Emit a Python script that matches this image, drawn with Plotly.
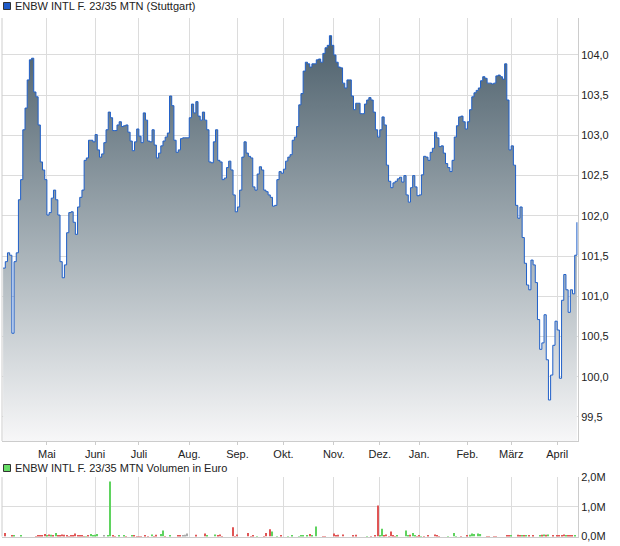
import pandas as pd
import plotly.graph_objects as go

# trading days shown (Stuttgart), Apr 2024 - Apr 2025
holidays = ["2024-05-01", "2024-12-24", "2024-12-25", "2024-12-26",
            "2024-12-31", "2025-01-01"]
dates = pd.bdate_range("2024-04-03", "2025-04-14", freq="C", holidays=holidays)
days = [d.strftime("%Y-%m-%d") for d in dates]

month_labels = ["Mai", "Juni", "Juli", "Aug.", "Sep.", "Okt.", "Nov.", "Dez.",
                "Jan.", "Feb.", "März", "April"]

# closing prices (in %)
price = [
    101.35, 101.43, 101.54, 101.51, 100.54, 101.43, 101.54, 102.20, 102.45, 103.07,
    103.34, 103.69, 103.94, 103.96, 103.54, 103.48, 103.13, 102.67, 102.57, 102.45,
    102.01, 102.04, 102.22, 102.32, 102.20, 102.01, 101.43, 101.23, 101.39, 101.79,
    102.04, 102.05, 101.92, 101.77, 102.11, 102.23, 102.32, 102.69, 102.72, 102.94,
    102.94, 102.92, 103.01, 102.82, 102.73, 102.77, 102.91, 103.07, 103.29, 103.22,
    103.06, 103.06, 103.13, 103.17, 103.11, 103.12, 103.13, 103.04, 102.93, 102.81,
    102.92, 103.08, 102.99, 102.91, 103.28, 103.19, 102.93, 102.92, 103.07, 102.88,
    102.72, 102.78, 102.87, 102.93, 102.98, 103.03, 103.49, 103.37, 102.94, 102.79,
    102.82, 102.96, 102.97, 102.97, 102.97, 103.22, 103.39, 103.28, 103.42, 103.24,
    103.19, 103.29, 103.19, 103.07, 102.67, 102.66, 102.92, 103.07, 102.69, 102.67,
    102.45, 102.47, 102.60, 102.68, 102.57, 102.26, 102.05, 102.11, 102.32, 102.73,
    102.92, 102.78, 102.74, 102.72, 102.36, 102.32, 102.52, 102.61, 102.57, 102.32,
    102.30, 102.26, 102.23, 102.12, 102.13, 102.45, 102.55, 102.53, 102.58, 102.68,
    102.73, 102.76, 102.94, 102.98, 103.11, 103.38, 103.52, 103.80, 103.91, 103.89,
    103.85, 103.89, 103.89, 103.94, 103.95, 103.91, 104.02, 104.09, 104.12, 104.24,
    104.12, 104.00, 103.91, 103.85, 103.84, 103.65, 103.59, 103.69, 103.69, 103.49,
    103.32, 103.40, 103.40, 103.27, 103.27, 103.39, 103.44, 103.47, 103.44, 103.29,
    103.07, 102.98, 103.07, 103.23, 103.13, 102.63, 102.43, 102.35, 102.41, 102.43,
    102.46, 102.48, 102.42, 102.50, 102.26, 102.17, 102.35, 102.50, 102.36, 102.25,
    102.26, 102.51, 102.74, 102.73, 102.69, 102.79, 102.84, 103.04, 102.97, 102.86,
    102.87, 102.78, 102.65, 102.60, 102.55, 102.69, 102.98, 103.12, 103.23, 103.24,
    103.17, 103.08, 103.17, 103.32, 103.48, 103.53, 103.56, 103.59, 103.68, 103.73,
    103.71, 103.65, 103.65, 103.64, 103.65, 103.74, 103.75, 103.73, 103.70, 103.89,
    103.44, 102.82, 102.87, 102.63, 102.13, 101.97, 102.11, 101.73, 101.41, 101.14,
    101.08, 101.45, 101.39, 101.17, 100.71, 100.34, 100.42, 100.77, 100.21, 99.71,
    100.02, 100.39, 100.69, 100.58, 99.98, 100.95, 101.27, 101.08, 100.80, 101.08,
    101.03, 101.51, 101.92,
]

# daily turnover in EUR million (only days with trades)
vol_day = [1, 4, 5, 8, 15, 16, 17, 18, 19, 20, 21, 22, 23, 24, 25, 26, 27, 28, 29, 30,
           31, 32, 33, 34, 35, 36, 37, 38, 39, 40, 41, 42, 43, 46, 48, 49, 50, 51, 53, 55,
           56, 59, 60, 61, 62, 63, 65, 66, 68, 69, 70, 72, 73, 74, 76, 80, 81, 82, 83, 84,
           88, 92, 93, 97, 98, 99, 100, 105, 106, 107, 112, 113, 114, 116, 119, 120, 122, 123, 125, 127,
           130, 132, 135, 136, 137, 139, 140, 141, 143, 146, 147, 151, 152, 153, 155, 160, 161, 166, 168, 170,
           171, 172, 173, 174, 175, 176, 177, 178, 179, 180, 184, 185, 186, 187, 188, 189, 190, 191, 192, 194,
           197, 198, 199, 203, 206, 207, 209, 212, 213, 214, 215, 217, 218, 221, 222, 224, 225, 230, 231, 232,
           235, 236, 237, 238, 239, 240, 242, 245, 246, 247, 248, 249, 251, 253, 254, 255, 256, 257, 258, 259,
           260, 261]
vol_meur = [0.12, 0.03, 0.03, 0.03, 0.01, 0.02, 0.03, 0.05, 0.08, 0.03, 0.07, 0.06, 0.03, 0.12, 0.03, 0.03, 0.07, 0.06, 0.03, 0.01,
            0.02, 0.03, 0.10, 0.02, 0.03, 0.03, 0.01, 0.01, 0.03, 0.08, 0.03, 0.06, 0.08, 0.03, 0.03, 1.85, 0.03, 0.01, 0.03, 0.03,
            0.01, 0.03, 0.03, 0.01, 0.01, 0.01, 0.03, 0.01, 0.07, 0.01, 0.06, 0.08, 0.20, 0.01, 0.03, 0.03, 0.02, 0.03, 0.06, 0.10,
            0.06, 0.10, 0.03, 0.07, 0.03, 0.07, 0.01, 0.31, 0.01, 0.07, 0.12, 0.01, 0.03, 0.01, 0.01, 0.12, 0.24, 0.17, 0.01, 0.03,
            0.01, 0.03, 0.01, 0.03, 0.03, 0.03, 0.08, 0.02, 0.34, 0.01, 0.01, 0.10, 0.03, 0.06, 0.07, 0.03, 0.06, 0.01, 0.01, 0.02,
            1.04, 0.03, 0.26, 0.03, 0.07, 0.01, 0.17, 0.03, 0.01, 0.03, 0.20, 0.03, 0.06, 0.12, 0.03, 0.01, 0.03, 0.01, 0.01, 0.03,
            0.07, 0.03, 0.01, 0.01, 0.12, 0.01, 0.01, 0.03, 0.06, 0.10, 0.08, 0.10, 0.08, 0.01, 0.01, 0.01, 0.01, 0.03, 0.03, 0.03,
            0.06, 0.02, 0.02, 0.03, 0.03, 0.03, 0.03, 0.03, 0.06, 0.07, 0.06, 0.07, 0.03, 0.03, 0.03, 0.03, 0.07, 0.04, 0.03, 0.03,
            0.03, 0.03]
# u = price up, d = down, n = unchanged
vol_dir = ["d", "d", "u", "u", "d", "d", "d", "d", "d", "u", "d", "u", "d", "u", "d", "d", "d", "d", "d", "d",
           "d", "d", "d", "d", "d", "d", "d", "u", "d", "u", "u", "u", "u", "n", "u", "u", "d", "d", "u", "u",
           "d", "u", "d", "d", "d", "d", "d", "d", "u", "d", "d", "u", "u", "d", "u", "d", "d", "n", "n", "n",
           "d", "d", "u", "u", "d", "d", "d", "d", "d", "d", "d", "d", "d", "u", "d", "d", "d", "u", "u", "d",
           "u", "u", "u", "u", "u", "u", "d", "u", "u", "d", "d", "d", "d", "d", "d", "d", "d", "u", "d", "d",
           "d", "u", "u", "d", "d", "d", "d", "d", "d", "u", "u", "u", "d", "u", "u", "d", "d", "u", "d", "d",
           "d", "d", "d", "u", "u", "u", "d", "d", "u", "u", "u", "u", "u", "d", "d", "d", "d", "d", "d", "u",
           "d", "d", "u", "d", "u", "d", "d", "u", "d", "u", "d", "u", "d", "d", "d", "d", "d", "u", "d", "d",
           "d", "u"]

DIR_COLORS = {"u": "#5fd35f", "d": "#e05555", "n": "#aaaaaa"}

FONT = "Liberation Sans, Arial, sans-serif"
GRID = "#dcdcdc"
W, H = 620, 546

# first trading day of every month -> gridline + label
tickvals = []
seen = set()
for d in dates:
    key = (d.year, d.month)
    if key not in seen:
        seen.add(key)
        tickvals.append(d.strftime("%Y-%m-%d"))
tickvals = tickvals[1:]  # first month starts mid-month, no label

fig = go.Figure()

fig.add_trace(go.Scatter(
    x=days, y=price,
    mode="lines",
    line=dict(color="#1f5fc8", width=1, shape="hv"),
    fill="tozeroy",
    fillgradient=dict(
        type="vertical",
        colorscale=[[0, "#f7f7f8"], [0.45, "#aab4ba"], [1, "#4b5e6a"]],
        start=99.2, stop=104.3,
    ),
    hoverinfo="skip",
    xaxis="x", yaxis="y",
))

fig.add_trace(go.Bar(
    x=[days[i] for i in vol_day],
    y=[v * 1e6 for v in vol_meur],
    marker=dict(color=[DIR_COLORS[c] for c in vol_dir], line=dict(width=0)),
    width=0.5,
    hoverinfo="skip",
    xaxis="x2", yaxis="y2",
))

x_dom = [2 / W, 578 / W]
fig.update_layout(
    width=W, height=H,
    margin=dict(l=0, r=0, t=0, b=0),
    paper_bgcolor="white", plot_bgcolor="white",
    showlegend=False,
    separators=",.",
    font=dict(family=FONT, size=11, color="#222222"),
    xaxis=dict(
        domain=x_dom, anchor="y", type="category",
        categoryorder="array", categoryarray=days,
        range=[-0.5, len(days) - 0.5],
        tickmode="array", tickvals=tickvals, ticktext=month_labels,
        showgrid=True, gridcolor=GRID, gridwidth=1,
        showline=True, linecolor="#cccccc", linewidth=1,
        ticks="outside", ticklen=3, tickcolor="#cccccc",
        tickfont=dict(size=11), automargin=False,
    ),
    yaxis=dict(
        domain=[(H - 441) / H, (H - 18) / H], anchor="x", side="right",
        range=[99.2, 104.46],
        tick0=99.5, dtick=0.5, tickformat=".1f",
        showgrid=True, gridcolor=GRID, gridwidth=1,
        showline=True, linecolor="#cccccc", linewidth=1,
        zeroline=False, ticks="", automargin=False,
    ),
    xaxis2=dict(
        domain=x_dom, anchor="y2", type="category",
        categoryorder="array", categoryarray=days,
        range=[-0.5, len(days) - 0.5],
        tickmode="array", tickvals=tickvals, showticklabels=False,
        showgrid=True, gridcolor=GRID, gridwidth=1,
        showline=True, linecolor="#cccccc", linewidth=1,
        automargin=False,
    ),
    yaxis2=dict(
        domain=[(H - 536.5) / H, (H - 477) / H], anchor="x2", side="right",
        range=[0, 2.0e6],
        tickmode="array", tickvals=[0, 1.0e6, 2.0e6], ticktext=["0,0M", "1,0M", "2,0M"],
        showgrid=True, gridcolor=GRID, gridwidth=1,
        showline=True, linecolor="#cccccc", linewidth=1,
        zeroline=False, ticks="", automargin=False,
    ),
)

# left border of both panels
for ya in ("y", "y2"):
    fig.add_shape(type="line", xref="x domain", yref=f"{ya} domain",
                  x0=0, x1=0, y0=0, y1=1, line=dict(color="#cccccc", width=1))

# panel captions with colour keys
captions = [
    ("ENBW INTL F. 23/35 MTN (Stuttgart)", "#1f5bc8", 6),
    ("ENBW INTL F. 23/35 MTN Volumen in Euro", "#66dd66", 468),
]
for text, colour, yc in captions:
    fig.add_shape(type="rect", xref="paper", yref="paper",
                  x0=3.5 / W, x1=10.5 / W, y0=1 - (yc + 3.5) / H, y1=1 - (yc - 3.5) / H,
                  fillcolor=colour, line=dict(color="#333333", width=1))
    fig.add_annotation(text=text, xref="paper", yref="paper",
                       x=13 / W, y=1 - yc / H, xanchor="left", yanchor="middle",
                       showarrow=False, font=dict(family=FONT, size=11, color="#222222"))

fig.write_html("out.html", config={"displayModeBar": False},
               post_script="document.body.style.margin='0';")
